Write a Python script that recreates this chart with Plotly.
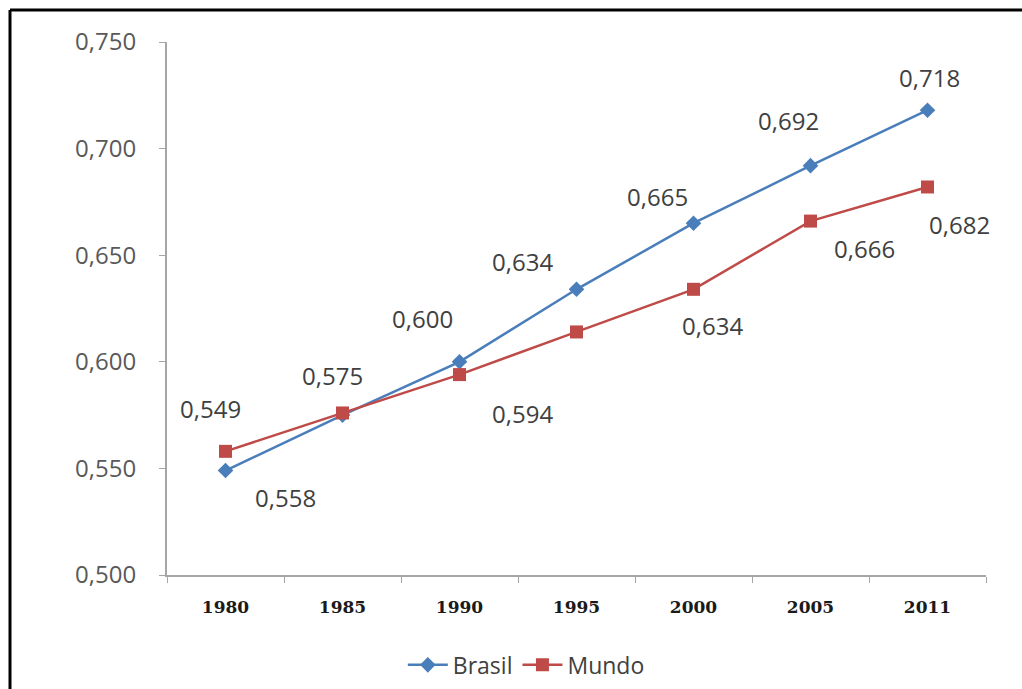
import plotly.graph_objects as go

# Human Development Index, Brazil vs. world
anos = ["1980", "1985", "1990", "1995", "2000", "2005", "2011"]
brasil = [0.549, 0.575, 0.600, 0.634, 0.665, 0.692, 0.718]
mundo = [0.558, 0.576, 0.594, 0.614, 0.634, 0.666, 0.682]

# which points carry a value label, and where it sits relative to the point (px)
brasil_rotulos = [True, True, True, True, True, True, True]
brasil_desloc = [(-15, 62), (-10, 40), (-37, 43), (-54, 28), (-36, 27), (-22, 45), (2, 33)]
mundo_rotulos = [True, False, True, False, True, True, True]
mundo_desloc = [(60, -46), (0, 0), (63, -39), (0, 0), (19, -36), (54, -27), (32, -38)]

AZUL = "#4A7EBB"
VERMELHO = "#BE4B48"
FONTE = "Open Sans"

fig = go.Figure()
fig.add_trace(go.Scatter(
    x=anos, y=brasil, name="Brasil", mode="lines+markers",
    line=dict(color=AZUL, width=2.5),
    marker=dict(symbol="diamond", size=12, color=AZUL),
))
fig.add_trace(go.Scatter(
    x=anos, y=mundo, name="Mundo", mode="lines+markers",
    line=dict(color=VERMELHO, width=2.5),
    marker=dict(symbol="square", size=13, color=VERMELHO),
))

anotacoes = []
for serie, mostra, desloc in ((brasil, brasil_rotulos, brasil_desloc),
                              (mundo, mundo_rotulos, mundo_desloc)):
    for i, (v, m, (dx, dy)) in enumerate(zip(serie, mostra, desloc)):
        if not m:
            continue
        anotacoes.append(dict(
            x=i, y=v, xref="x", yref="y", showarrow=False,
            text=f"{v:.3f}".replace(".", ","),
            xshift=dx, yshift=dy,
            font=dict(family=FONTE, size=24, color="#404040"),
        ))

fig.update_layout(
    width=1022, height=689,
    margin=dict(l=167, r=36, t=42, b=114),
    paper_bgcolor="white", plot_bgcolor="white",
    separators=",.",
    showlegend=True,
    legend=dict(
        orientation="h", x=0.515, xref="container", xanchor="center",
        y=0.035, yref="container", yanchor="middle",
        font=dict(family=FONTE, size=23, color="#404040"),
        itemwidth=40, tracegroupgap=0,
    ),
    annotations=anotacoes,
    shapes=[
        dict(type="line", xref="paper", yref="paper",
             x0=-0.1917, x1=1.1, y0=1.06, y1=1.06,
             line=dict(color="black", width=3)),
        dict(type="line", xref="paper", yref="paper",
             x0=-0.1917, x1=-0.1917, y0=1.06, y1=-0.3,
             line=dict(color="black", width=3)),
    ],
)

fig.update_xaxes(
    type="category", range=[-0.5, 6.5],
    showline=True, linecolor="#A6A6A6", linewidth=2,
    ticks="outside", tickson="boundaries", ticklen=6, tickcolor="#A6A6A6",
    showgrid=False, zeroline=False,
    tickfont=dict(family="DejaVu Serif", size=17, color="#1A1A1A", weight="bold"),
    ticklabelstandoff=16,
)
fig.update_yaxes(
    range=[0.5, 0.75], dtick=0.05, tickformat=".3f",
    showline=True, linecolor="#A6A6A6", linewidth=2,
    ticks="outside", ticklen=6, tickcolor="#A6A6A6",
    showgrid=False, zeroline=False,
    tickfont=dict(family=FONTE, size=24, color="#595959"),
    ticklabelstandoff=18,
)

fig.write_html("out.html")
